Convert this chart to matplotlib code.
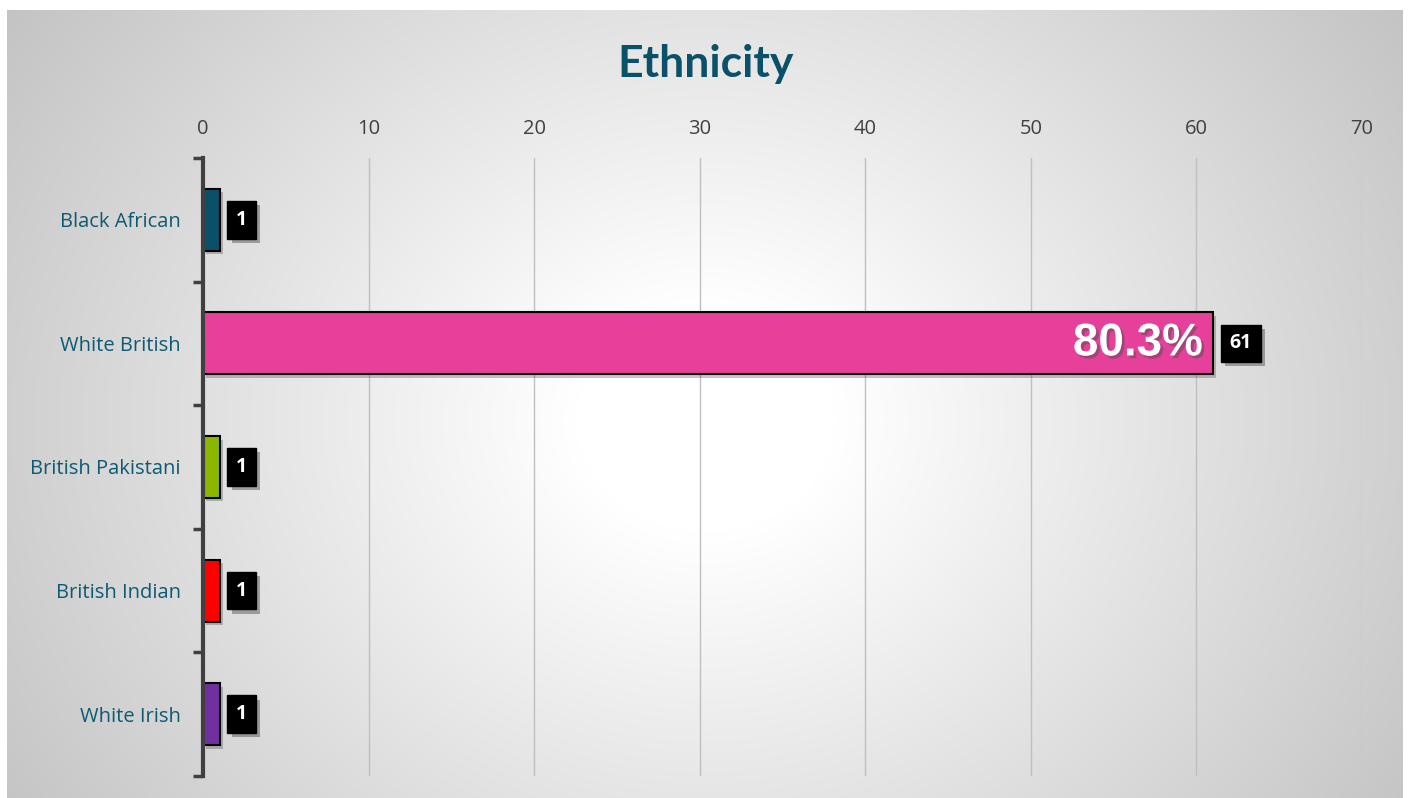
import numpy as np
import matplotlib
matplotlib.use("Agg")
import matplotlib.pyplot as plt
import matplotlib.patheffects as pe
from matplotlib.ticker import FixedLocator

categories = ["Black African", "White British", "British Pakistani", "British Indian", "White Irish"]
values = [1, 61, 1, 1, 1]
colors = ["#0B5069", "#E6409A", "#8DB600", "#FF0000", "#7030A0"]
pct_labels = ["", "80.3%", "", "", ""]
title = "Ethnicity"
xticks = [0, 10, 20, 30, 40, 50, 60, 70]

W, H = 1410, 798
fig = plt.figure(figsize=(W / 100, H / 100), dpi=100)
fig.patch.set_facecolor("white")

# gradient background panel
bg = fig.add_axes([7 / W, 0, (1403 - 7) / W, (798 - 10) / H])
bg.set_axis_off()
ny, nx = 400, 700
yy, xx = np.mgrid[0:ny, 0:nx]
cx, cy = nx * 0.50, ny * 0.52
d = np.sqrt(((xx - cx) / (nx * 0.62)) ** 2 + ((yy - cy) / (ny * 0.95)) ** 2)
g = np.clip(1.0 - 0.24 * np.clip(d - 0.15, 0, None) / 0.85, 0.76, 1.0)
bg.imshow(np.dstack([g, g, g]), aspect="auto", extent=[0, 1, 0, 1], interpolation="bilinear")
bg.set_xlim(0, 1)
bg.set_ylim(0, 1)

ax = fig.add_axes([203 / W, 1 - 776 / H, (1362 - 203) / W, (776 - 158) / H])
ax.set_facecolor("none")
ypos = np.arange(len(categories))
shadow = [pe.SimplePatchShadow(offset=(2.5, -2.5), shadow_rgbFace="black", alpha=0.22), pe.Normal()]
bars = ax.barh(ypos, values, height=0.5, color=colors, edgecolor="black", linewidth=1.5, zorder=3)
for b in bars:
    b.set_path_effects(shadow)

ax.set_xlim(0, 70)
ax.set_ylim(len(categories) - 0.5, -0.5)
ax.xaxis.set_major_locator(FixedLocator(xticks))
ax.xaxis.tick_top()
ax.tick_params(axis="x", length=0, pad=14, labelsize=14.5, labelcolor="#404040")
ax.set_yticks(ypos)
ax.set_yticklabels(categories)
ax.tick_params(axis="y", which="major", length=0, pad=16, labelsize=14.5, labelcolor="#0E5A73")
ax.yaxis.set_minor_locator(FixedLocator(np.arange(-0.5, len(categories), 1.0)))
ax.tick_params(axis="y", which="minor", length=7, width=2.5, color="#404040", direction="out")
for lab in ax.get_xticklabels() + ax.get_yticklabels():
    lab.set_family("Open Sans")
ax.grid(axis="x", color="#bfbfbf", linewidth=1, zorder=0)
for s in ["top", "right", "bottom"]:
    ax.spines[s].set_visible(False)
ax.spines["left"].set_color("#404040")
ax.spines["left"].set_linewidth(3)
ax.spines["left"].set_zorder(4)

box_shadow = [pe.SimplePatchShadow(offset=(3, -3), alpha=0.3), pe.Normal()]
for i, v in enumerate(values):
    t = ax.annotate(str(v), xy=(v, i), xytext=(12, 0), textcoords="offset points",
                    ha="left", va="center", fontsize=14, fontweight="bold", color="white",
                    family="Open Sans",
                    bbox=dict(boxstyle="square,pad=0.45", fc="black", ec="black"), zorder=5)
    t.get_bbox_patch().set_path_effects(box_shadow)
    if pct_labels[i]:
        ax.annotate(pct_labels[i], xy=(v, i), xytext=(-7, 0), textcoords="offset points",
                    ha="right", va="center", fontsize=33, fontweight="bold", color="white",
                    family="Liberation Sans", zorder=6,
                    path_effects=[pe.withSimplePatchShadow(offset=(2, -2), alpha=0.45)])

fig.text(706 / W, 1 - 64 / H, title, ha="center", va="center", fontsize=32,
         fontweight="bold", color="#0B5069", family="Lato")

fig.savefig("out.png", dpi=100)
